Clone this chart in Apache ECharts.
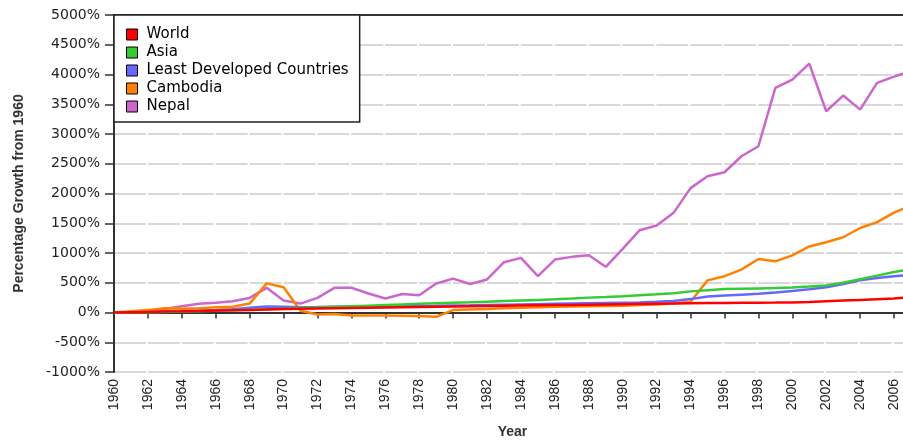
<!DOCTYPE html>
<html>
<head>
<meta charset="utf-8">
<script src="https://cdn.jsdelivr.net/npm/echarts@6/dist/echarts.min.js"></script>
<style>
  html, body { margin: 0; padding: 0; background: #fff; }
  #chart { width: 903px; height: 442px; }
</style>
</head>
<body>
<div id="chart"></div>
<script>
    // years 1960 - 2007 (2007 only shows as the line running off the right edge)
    var years = [];
    for (var y = 1960; y <= 2007; y++) { years.push(String(y)); }

    var seriesNames = ['World', 'Asia', 'Least Developed Countries', 'Cambodia', 'Nepal'];
    var seriesColors = ['#ff0000', '#33cc33', '#6666ff', '#ff8000', '#cc66cc'];

    var world = [0,5,10,15,20,26,32,38,44,52,60,64,68,72,76,80,84,88,92,96,
        100,104,108,112,116,120,124,128,132,136,140,144,148,152,156,158,160,162,164,166,
        170,176,188,200,212,224,235,258];
    var asia = [0,3,6,10,15,22,30,38,46,55,65,75,85,95,105,115,125,135,145,155,
        165,172,182,192,202,212,222,235,250,262,275,290,305,325,355,375,395,400,405,410,
        420,435,455,500,560,620,680,730];
    var ldc = [0,5,10,16,22,30,40,55,80,100,95,90,92,95,98,100,103,106,110,113,
        117,120,125,130,135,140,145,150,155,160,165,170,180,195,225,270,285,300,315,335,
        360,390,425,480,540,580,610,635];
    var cambodia = [0,20,40,70,65,70,90,95,150,490,425,30,-35,-25,-50,-50,-50,-55,-60,-72,
        40,50,60,70,80,90,95,100,105,110,115,125,135,150,180,540,610,720,900,860,
        960,1110,1180,1265,1420,1520,1680,1800];
    var nepal = [0,10,30,60,106,146,163,190,245,415,200,150,245,415,415,320,235,310,290,487,
        570,480,555,845,918,610,890,935,963,768,1070,1383,1462,1675,2090,2290,2357,2626,2794,3775,
        3914,4183,3382,3646,3410,3859,3965,4060];

    var seriesData = [world, asia, ldc, cambodia, nepal];

    function buildSeries(){
        var list = [];
        for (var i = 0; i < seriesNames.length; i++) {
            list.push({
                name: seriesNames[i],
                type: 'line',
                data: seriesData[i],
                showSymbol: false,
                symbol: 'none',
                z: 10 - i,
                color: seriesColors[i],
                lineStyle: { width: 2.5, color: seriesColors[i] },
                itemStyle: { color: seriesColors[i] }
            });
        }
        return list;
    }

    var axisColor = '#333';
    var chart = echarts.init(document.getElementById('chart'), null, { renderer: 'canvas' });

    var option = {
        animation: false,
        backgroundColor: '#fff',
        grid: { left: 114, right: -8, top: 15, bottom: 70, containLabel: false, outerBoundsMode: 'none' },
        legend: {
            orient: 'vertical',
            left: 114,
            top: 15,
            icon: 'rect',
            itemWidth: 11,
            itemHeight: 11,
            itemGap: 3,
            padding: [12, 11, 8, 12],
            backgroundColor: '#fff',
            borderColor: '#222',
            borderWidth: 1.5,
            itemStyle: { borderColor: '#000', borderWidth: 1 },
            textStyle: { fontFamily: 'DejaVu Sans', fontSize: 15, color: '#000', padding: [0, 0, 0, 4] },
            data: seriesNames
        },
        xAxis: [{
            type: 'category',
            data: years,
            boundaryGap: false,
            name: 'Year',
            nameLocation: 'middle',
            nameGap: 53,
            nameTextStyle: { fontFamily: 'Liberation Sans', fontWeight: 'bold', fontSize: 14, color: '#333' },
            axisLine: { lineStyle: { color: axisColor, width: 2 } },
            axisTick: { interval: 1, length: 6, lineStyle: { color: axisColor, width: 1.5 } },
            axisLabel: {
                interval: 1,
                rotate: 90,
                margin: 7,
                fontFamily: 'Liberation Sans',
                fontSize: 14,
                color: '#222'
            },
            splitLine: { show: false }
        }, {
            type: 'category',
            data: years,
            boundaryGap: false,
            position: 'top',
            axisLine: { lineStyle: { color: axisColor, width: 2 } },
            axisTick: { show: false },
            axisLabel: { show: false },
            splitLine: { show: false }
        }],
        yAxis: {
            type: 'value',
            min: -1000,
            max: 5000,
            interval: 500,
            name: 'Percentage Growth from 1960',
            nameLocation: 'middle',
            nameGap: 88,
            nameTextStyle: { fontFamily: 'Liberation Sans', fontWeight: 'bold', fontSize: 14, color: '#333' },
            axisLine: { show: true, lineStyle: { color: axisColor, width: 2 } },
            axisTick: { show: true, length: 9, lineStyle: { color: axisColor, width: 1.5 } },
            axisLabel: {
                formatter: function (v) { return v + '%'; },
                margin: 14,
                fontFamily: 'DejaVu Sans',
                fontSize: 14,
                color: '#222'
            },
            splitLine: {
                show: true,
                lineStyle: { color: '#cccccc', width: 1.5, type: [31.9, 2] }
            }
        },
        series: buildSeries()
    };

    chart.setOption(option);
</script>
</body>
</html>
